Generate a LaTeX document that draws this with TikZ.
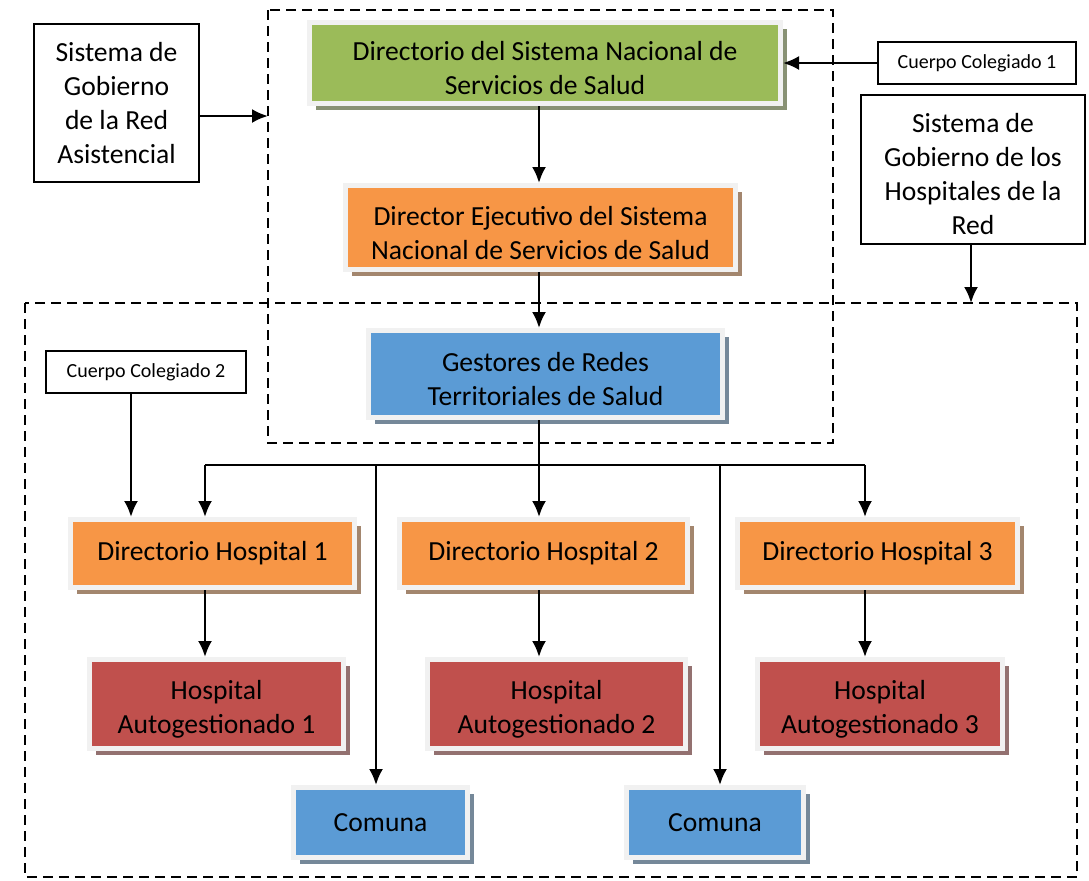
\documentclass[tikz,border=0pt]{standalone}
\usepackage{fontspec}
\setmainfont{Carlito}
\usepackage{tikz}
\usetikzlibrary{positioning}
\usetikzlibrary{arrows.meta}
\usetikzlibrary{shadows}
\definecolor{color-green}{RGB}{155,187,89}
\definecolor{color-orange}{RGB}{247,150,70}
\definecolor{color-blue}{RGB}{91,155,213}
\definecolor{color-red}{RGB}{192,80,77}
\definecolor{color-frame}{RGB}{241,241,241}

\begin{document}
\begin{tikzpicture}[x=0.5pt, y=-0.5pt, >={Latex[length=8pt,width=7pt]},
big/.style={font=\fontsize{13.8}{17}\selectfont},
small/.style={font=\fontsize{10}{12}\selectfont},
colbox/.style={draw=color-frame, line width=2.5pt, fill=#1, align=center, inner sep=1pt,
  drop shadow={shadow xshift=3pt, shadow yshift=-3pt, fill=#1!30!gray, opacity=1}, big},
twoline/.style={execute at begin node={\rule{0pt}{32pt}}},
fourline/.style={execute at begin node={\rule{0pt}{65pt}}},
plainbox/.style={draw, line width=0.75pt, fill=white, align=center, inner sep=1pt},
link/.style={line width=1.2pt},
frontier/.style={line width=0.75pt, dash pattern=on 5pt off 3pt}]
\useasboundingbox (0,0) rectangle (1089,880);

% dashed areas
\draw[frontier] (268,10) rectangle (833,443);
\draw[frontier] (25,303) rectangle (1077,877);

% columns
\coordinate (colA) at (205,465);
\coordinate (colB) at (539,465);
\coordinate (colC) at (865,465);
\coordinate (colD) at (376,465);
\coordinate (colE) at (720,465);
\coordinate (redA) at (268,116);
\coordinate (redB) at (971,303);

% governing boxes
\node [plainbox, big, minimum width=82.5pt, minimum height=79pt] (sgra) at (116.5,103)
  {Sistema de\\Gobierno\\de la Red\\Asistencial};
\node [plainbox, small, minimum width=99pt, minimum height=21pt] (cc1) at (977,63) {Cuerpo Colegiado 1};
\node [plainbox, big, fourline, minimum width=112pt, minimum height=74.5pt] (sghr) at (973,169.5)
  {Sistema de\\Gobierno de los\\Hospitales de la\\Red};
\node [plainbox, small, minimum width=100pt, minimum height=21pt] (cc2) at (146,372) {Cuerpo Colegiado 2};

% central chain
\node [colbox=color-green, twoline, minimum width=235.5pt, minimum height=40.5pt] (dirsns) at (545,63)
  {Directorio del Sistema Nacional de\\Servicios de Salud};
\node [colbox=color-orange, twoline, minimum width=195pt, minimum height=42pt] (dirje) at (540.5,227.5)
  {Director Ejecutivo del Sistema\\Nacional de Servicios de Salud};
\node [colbox=color-blue, twoline, minimum width=177pt, minimum height=43.5pt] (gestor) at (545.5,374)
  {Gestores de Redes\\Territoriales de Salud};

% hospitals
\node [colbox=color-orange, minimum width=142pt, minimum height=34pt] (dh1) at (212.5,553.5) {Directorio Hospital 1};
\node [colbox=color-orange, minimum width=144pt, minimum height=34pt] (dh2) at (543.5,553.5) {Directorio Hospital 2};
\node [colbox=color-orange, minimum width=140pt, minimum height=34pt] (dh3) at (877.5,553.5) {Directorio Hospital 3};
\node [colbox=color-red, twoline, minimum width=127pt, minimum height=44.5pt] (ha1) at (216.5,704) {Hospital\\Autogestionado 1};
\node [colbox=color-red, twoline, minimum width=129pt, minimum height=44.5pt] (ha2) at (556.5,704) {Hospital\\Autogestionado 2};
\node [colbox=color-red, twoline, minimum width=122.5pt, minimum height=44.5pt] (ha3) at (880,704) {Hospital\\Autogestionado 3};
\node [colbox=color-blue, minimum width=87pt, minimum height=35pt] (com1) at (380.5,822.5) {Comuna};
\node [colbox=color-blue, minimum width=88.5pt, minimum height=35pt] (com2) at (715,822.5) {Comuna};

% arrows
\draw[link,->] (sgra.east |- redA) -- (redA);
\draw[link,->] (cc1.west) -- (dirsns.east |- cc1.west);
\draw[link,->] (sghr.south -| redB) -- (redB);
\draw[link,->] (dirsns.south -| colB) -- (dirje.north -| colB);
\draw[link,->] (dirje.south -| colB) -- (gestor.north -| colB);
\draw[link,->] ([xshift=-7.5pt]cc2.south) -- ([xshift=-7.5pt]cc2.south |- dh1.north);

% bus
\draw[link] (gestor.south -| colB) -- (colB);
\draw[link] (colA) -- (colC);
\draw[link,->] (colA) -- (dh1.north -| colA);
\draw[link,->] (colB) -- (dh2.north -| colB);
\draw[link,->] (colC) -- (dh3.north -| colC);
\draw[link,->] (colD) -- (com1.north -| colD);
\draw[link,->] (colE) -- (com2.north -| colE);

\draw[link,->] (dh1.south -| colA) -- (ha1.north -| colA);
\draw[link,->] (dh2.south -| colB) -- (ha2.north -| colB);
\draw[link,->] (dh3.south -| colC) -- (ha3.north -| colC);
\end{tikzpicture}
\end{document}
